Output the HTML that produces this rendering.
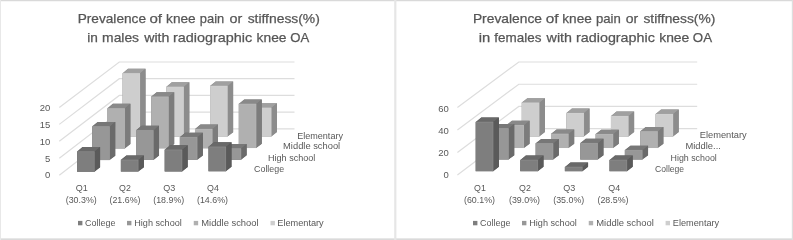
<!DOCTYPE html>
<html><head><meta charset="utf-8"><title>Prevalence of knee pain or stiffness</title>
<style>
html,body{margin:0;padding:0;background:#fff;}
body{width:793px;height:240px;overflow:hidden;font-family:"Liberation Sans",sans-serif;}
svg{display:block;will-change:transform;}
svg text{font-family:"Liberation Sans",sans-serif;}
</style></head><body>
<svg width="793" height="240" viewBox="0 0 793 240">
<rect x="0" y="0" width="793" height="240" fill="#ffffff"/>
<!-- frame -->
<rect x="0" y="0" width="793" height="1.25" fill="#d9d9d9"/>
<rect x="0" y="238.35" width="793" height="1.65" fill="#dadada"/>
<rect x="0" y="0" width="1" height="240" fill="#e8e8e8"/>
<rect x="791.8" y="0" width="1.2" height="240" fill="#dedede"/>
<rect x="394.2" y="0" width="2.2" height="240" fill="#e6e6e6"/>
<defs><filter id="soft" x="-5%" y="-5%" width="110%" height="110%"><feGaussianBlur stdDeviation="0.4"/></filter></defs>
<g id="chart-left" filter="url(#soft)">
<polyline points="59.3,175.3 119.3,128.8 294.5,128.8" fill="none" stroke="#dddddd" stroke-width="1.2"/>
<polyline points="59.3,158.33 119.3,112.1 294.5,112.1" fill="none" stroke="#dddddd" stroke-width="1.2"/>
<polyline points="59.3,141.35 119.3,95.4 294.5,95.4" fill="none" stroke="#dddddd" stroke-width="1.2"/>
<polyline points="59.3,124.38 119.3,78.7 294.5,78.7" fill="none" stroke="#dddddd" stroke-width="1.2"/>
<polyline points="59.3,107.4 119.3,62 294.5,62" fill="none" stroke="#dddddd" stroke-width="1.2"/>
<polygon points="122.53,136.92 122.53,73.17 128.03,68.77 145.53,68.77 145.53,132.52 140.03,136.92" fill="#8c8c8c"/>
<polygon points="122.53,73.77 140.03,73.77 145.53,68.77 128.03,68.77" fill="#a0a0a0"/>
<polygon points="139.44,73.77 145.53,68.77 145.53,132.52 139.44,136.92" fill="#8c8c8c"/>
<rect x="122.53" y="73.17" width="17.5" height="63.75" fill="#cecece"/>
<path d="M122.53,73.37 H139.84 V136.92" fill="none" stroke="#ffffff" stroke-opacity="0.10" stroke-width="0.9"/>
<polygon points="166.33,136.77 166.33,86.77 171.83,82.37 189.33,82.37 189.33,132.37 183.83,136.77" fill="#8c8c8c"/>
<polygon points="166.33,87.37 183.83,87.37 189.33,82.37 171.83,82.37" fill="#a0a0a0"/>
<polygon points="183.23,87.37 189.33,82.37 189.33,132.37 183.23,136.77" fill="#8c8c8c"/>
<rect x="166.33" y="86.77" width="17.5" height="50" fill="#cecece"/>
<path d="M166.33,86.97 H183.63 V136.77" fill="none" stroke="#ffffff" stroke-opacity="0.10" stroke-width="0.9"/>
<polygon points="210.13,136.62 210.13,85.87 215.63,81.47 233.13,81.47 233.13,132.22 227.63,136.62" fill="#8c8c8c"/>
<polygon points="210.13,86.47 227.63,86.47 233.13,81.47 215.63,81.47" fill="#a0a0a0"/>
<polygon points="227.03,86.47 233.13,81.47 233.13,132.22 227.03,136.62" fill="#8c8c8c"/>
<rect x="210.13" y="85.87" width="17.5" height="50.75" fill="#cecece"/>
<path d="M210.13,86.07 H227.44 V136.62" fill="none" stroke="#ffffff" stroke-opacity="0.10" stroke-width="0.9"/>
<polygon points="253.94,136.47 253.94,107.72 259.44,103.32 276.94,103.32 276.94,132.07 271.44,136.47" fill="#8c8c8c"/>
<polygon points="253.94,108.32 271.44,108.32 276.94,103.32 259.44,103.32" fill="#a0a0a0"/>
<polygon points="270.83,108.32 276.94,103.32 276.94,132.07 270.83,136.47" fill="#8c8c8c"/>
<rect x="253.94" y="107.72" width="17.5" height="28.75" fill="#cecece"/>
<path d="M253.94,107.92 H271.24 V136.47" fill="none" stroke="#ffffff" stroke-opacity="0.10" stroke-width="0.9"/>
<polygon points="107.39,148.52 107.39,108.27 112.89,103.87 130.38,103.87 130.38,144.12 124.89,148.52" fill="#7b7b7b"/>
<polygon points="107.39,108.87 124.89,108.87 130.38,103.87 112.89,103.87" fill="#898989"/>
<polygon points="124.29,108.87 130.38,103.87 130.38,144.12 124.29,148.52" fill="#7b7b7b"/>
<rect x="107.39" y="108.27" width="17.5" height="40.25" fill="#b0b0b0"/>
<path d="M107.39,108.47 H124.69 V148.52" fill="none" stroke="#ffffff" stroke-opacity="0.10" stroke-width="0.9"/>
<polygon points="151.19,148.37 151.19,96.62 156.69,92.22 174.19,92.22 174.19,143.97 168.69,148.37" fill="#7b7b7b"/>
<polygon points="151.19,97.22 168.69,97.22 174.19,92.22 156.69,92.22" fill="#898989"/>
<polygon points="168.09,97.22 174.19,92.22 174.19,143.97 168.09,148.37" fill="#7b7b7b"/>
<rect x="151.19" y="96.62" width="17.5" height="51.75" fill="#b0b0b0"/>
<path d="M151.19,96.82 H168.49 V148.37" fill="none" stroke="#ffffff" stroke-opacity="0.10" stroke-width="0.9"/>
<polygon points="194.98,148.22 194.98,128.97 200.48,124.57 217.98,124.57 217.98,143.82 212.48,148.22" fill="#7b7b7b"/>
<polygon points="194.98,129.57 212.48,129.57 217.98,124.57 200.48,124.57" fill="#898989"/>
<polygon points="211.88,129.57 217.98,124.57 217.98,143.82 211.88,148.22" fill="#7b7b7b"/>
<rect x="194.98" y="128.97" width="17.5" height="19.25" fill="#b0b0b0"/>
<path d="M194.98,129.17 H212.28 V148.22" fill="none" stroke="#ffffff" stroke-opacity="0.10" stroke-width="0.9"/>
<polygon points="238.78,148.07 238.78,103.82 244.28,99.42 261.78,99.42 261.78,143.67 256.28,148.07" fill="#7b7b7b"/>
<polygon points="238.78,104.42 256.28,104.42 261.78,99.42 244.28,99.42" fill="#898989"/>
<polygon points="255.68,104.42 261.78,99.42 261.78,143.67 255.68,148.07" fill="#7b7b7b"/>
<rect x="238.78" y="103.82" width="17.5" height="44.25" fill="#b0b0b0"/>
<path d="M238.78,104.02 H256.08 V148.07" fill="none" stroke="#ffffff" stroke-opacity="0.10" stroke-width="0.9"/>
<polygon points="92.23,160.12 92.23,126.37 97.73,121.97 115.23,121.97 115.23,155.72 109.73,160.12" fill="#6a6a6a"/>
<polygon points="92.23,126.97 109.73,126.97 115.23,121.97 97.73,121.97" fill="#777777"/>
<polygon points="109.14,126.97 115.23,121.97 115.23,155.72 109.14,160.12" fill="#6a6a6a"/>
<rect x="92.23" y="126.37" width="17.5" height="33.75" fill="#979797"/>
<path d="M92.23,126.57 H109.53 V160.12" fill="none" stroke="#ffffff" stroke-opacity="0.10" stroke-width="0.9"/>
<polygon points="136.03,159.97 136.03,130.22 141.53,125.82 159.03,125.82 159.03,155.57 153.53,159.97" fill="#6a6a6a"/>
<polygon points="136.03,130.82 153.53,130.82 159.03,125.82 141.53,125.82" fill="#777777"/>
<polygon points="152.94,130.82 159.03,125.82 159.03,155.57 152.94,159.97" fill="#6a6a6a"/>
<rect x="136.03" y="130.22" width="17.5" height="29.75" fill="#979797"/>
<path d="M136.03,130.42 H153.34 V159.97" fill="none" stroke="#ffffff" stroke-opacity="0.10" stroke-width="0.9"/>
<polygon points="179.83,159.82 179.83,137.07 185.33,132.67 202.83,132.67 202.83,155.42 197.33,159.82" fill="#6a6a6a"/>
<polygon points="179.83,137.67 197.33,137.67 202.83,132.67 185.33,132.67" fill="#777777"/>
<polygon points="196.73,137.67 202.83,132.67 202.83,155.42 196.73,159.82" fill="#6a6a6a"/>
<rect x="179.83" y="137.07" width="17.5" height="22.75" fill="#979797"/>
<path d="M179.83,137.27 H197.13 V159.82" fill="none" stroke="#ffffff" stroke-opacity="0.10" stroke-width="0.9"/>
<polygon points="223.63,159.67 223.63,148.42 229.13,144.02 246.63,144.02 246.63,155.27 241.13,159.67" fill="#6a6a6a"/>
<polygon points="223.63,149.02 241.13,149.02 246.63,144.02 229.13,144.02" fill="#777777"/>
<polygon points="240.53,149.02 246.63,144.02 246.63,155.27 240.53,159.67" fill="#6a6a6a"/>
<rect x="223.63" y="148.42" width="17.5" height="11.25" fill="#979797"/>
<path d="M223.63,148.62 H240.94 V159.67" fill="none" stroke="#ffffff" stroke-opacity="0.10" stroke-width="0.9"/>
<polygon points="77.08,171.72 77.08,151.47 82.58,147.07 100.08,147.07 100.08,167.32 94.58,171.72" fill="#5a5a5a"/>
<polygon points="77.08,152.07 94.58,152.07 100.08,147.07 82.58,147.07" fill="#696969"/>
<polygon points="93.98,152.07 100.08,147.07 100.08,167.32 93.98,171.72" fill="#5a5a5a"/>
<rect x="77.08" y="151.47" width="17.5" height="20.25" fill="#7e7e7e"/>
<path d="M77.08,151.67 H94.38 V171.72" fill="none" stroke="#ffffff" stroke-opacity="0.10" stroke-width="0.9"/>
<polygon points="120.88,171.57 120.88,159.82 126.38,155.42 143.88,155.42 143.88,167.17 138.38,171.57" fill="#5a5a5a"/>
<polygon points="120.88,160.42 138.38,160.42 143.88,155.42 126.38,155.42" fill="#696969"/>
<polygon points="137.78,160.42 143.88,155.42 143.88,167.17 137.78,171.57" fill="#5a5a5a"/>
<rect x="120.88" y="159.82" width="17.5" height="11.75" fill="#7e7e7e"/>
<path d="M120.88,160.02 H138.19 V171.57" fill="none" stroke="#ffffff" stroke-opacity="0.10" stroke-width="0.9"/>
<polygon points="164.68,171.42 164.68,149.67 170.18,145.27 187.68,145.27 187.68,167.02 182.18,171.42" fill="#5a5a5a"/>
<polygon points="164.68,150.27 182.18,150.27 187.68,145.27 170.18,145.27" fill="#696969"/>
<polygon points="181.58,150.27 187.68,145.27 187.68,167.02 181.58,171.42" fill="#5a5a5a"/>
<rect x="164.68" y="149.67" width="17.5" height="21.75" fill="#7e7e7e"/>
<path d="M164.68,149.87 H181.98 V171.42" fill="none" stroke="#ffffff" stroke-opacity="0.10" stroke-width="0.9"/>
<polygon points="208.48,171.27 208.48,146.67 213.98,142.27 231.48,142.27 231.48,166.87 225.98,171.27" fill="#5a5a5a"/>
<polygon points="208.48,147.27 225.98,147.27 231.48,142.27 213.98,142.27" fill="#696969"/>
<polygon points="225.38,147.27 231.48,142.27 231.48,166.87 225.38,171.27" fill="#5a5a5a"/>
<rect x="208.48" y="146.67" width="17.5" height="24.6" fill="#7e7e7e"/>
<path d="M208.48,146.87 H225.78 V171.27" fill="none" stroke="#ffffff" stroke-opacity="0.10" stroke-width="0.9"/>
</g>
<g id="chart-right" filter="url(#soft)">
<polyline points="457.4,175 518.8,128.7 697.2,128.7" fill="none" stroke="#dddddd" stroke-width="1.2"/>
<polyline points="457.4,152.53 518.8,106.47 697.2,106.47" fill="none" stroke="#dddddd" stroke-width="1.2"/>
<polyline points="457.4,130.07 518.8,84.23 697.2,84.23" fill="none" stroke="#dddddd" stroke-width="1.2"/>
<polyline points="457.4,107.6 518.8,62 697.2,62" fill="none" stroke="#dddddd" stroke-width="1.2"/>
<polygon points="521.74,136.48 521.74,102.58 527.34,98.18 544.94,98.18 544.94,132.08 539.34,136.48" fill="#8c8c8c"/>
<polygon points="521.74,103.18 539.34,103.18 544.94,98.18 527.34,98.18" fill="#a0a0a0"/>
<polygon points="538.74,103.18 544.94,98.18 544.94,132.08 538.74,136.48" fill="#8c8c8c"/>
<rect x="521.74" y="102.58" width="17.6" height="33.9" fill="#cecece"/>
<path d="M521.74,102.78 H539.13 V136.48" fill="none" stroke="#ffffff" stroke-opacity="0.10" stroke-width="0.9"/>
<polygon points="566.33,136.48 566.33,112.98 571.93,108.58 589.53,108.58 589.53,132.08 583.93,136.48" fill="#8c8c8c"/>
<polygon points="566.33,113.58 583.93,113.58 589.53,108.58 571.93,108.58" fill="#a0a0a0"/>
<polygon points="583.33,113.58 589.53,108.58 589.53,132.08 583.33,136.48" fill="#8c8c8c"/>
<rect x="566.33" y="112.98" width="17.6" height="23.5" fill="#cecece"/>
<path d="M566.33,113.18 H583.73 V136.48" fill="none" stroke="#ffffff" stroke-opacity="0.10" stroke-width="0.9"/>
<polygon points="610.93,136.48 610.93,115.98 616.53,111.58 634.13,111.58 634.13,132.08 628.53,136.48" fill="#8c8c8c"/>
<polygon points="610.93,116.58 628.53,116.58 634.13,111.58 616.53,111.58" fill="#a0a0a0"/>
<polygon points="627.93,116.58 634.13,111.58 634.13,132.08 627.93,136.48" fill="#8c8c8c"/>
<rect x="610.93" y="115.98" width="17.6" height="20.5" fill="#cecece"/>
<path d="M610.93,116.18 H628.33 V136.48" fill="none" stroke="#ffffff" stroke-opacity="0.10" stroke-width="0.9"/>
<polygon points="655.53,136.48 655.53,113.98 661.13,109.58 678.74,109.58 678.74,132.08 673.13,136.48" fill="#8c8c8c"/>
<polygon points="655.53,114.58 673.13,114.58 678.74,109.58 661.13,109.58" fill="#a0a0a0"/>
<polygon points="672.53,114.58 678.74,109.58 678.74,132.08 672.53,136.48" fill="#8c8c8c"/>
<rect x="655.53" y="113.98" width="17.6" height="22.5" fill="#cecece"/>
<path d="M655.53,114.18 H672.93 V136.48" fill="none" stroke="#ffffff" stroke-opacity="0.10" stroke-width="0.9"/>
<polygon points="506.38,148.03 506.38,125.03 511.99,120.63 529.59,120.63 529.59,143.63 523.99,148.03" fill="#7b7b7b"/>
<polygon points="506.38,125.63 523.99,125.63 529.59,120.63 511.99,120.63" fill="#898989"/>
<polygon points="523.38,125.63 529.59,120.63 529.59,143.63 523.38,148.03" fill="#7b7b7b"/>
<rect x="506.38" y="125.03" width="17.6" height="23" fill="#b0b0b0"/>
<path d="M506.38,125.23 H523.78 V148.03" fill="none" stroke="#ffffff" stroke-opacity="0.10" stroke-width="0.9"/>
<polygon points="550.99,148.03 550.99,133.78 556.59,129.38 574.19,129.38 574.19,143.63 568.59,148.03" fill="#7b7b7b"/>
<polygon points="550.99,134.38 568.59,134.38 574.19,129.38 556.59,129.38" fill="#898989"/>
<polygon points="567.99,134.38 574.19,129.38 574.19,143.63 567.99,148.03" fill="#7b7b7b"/>
<rect x="550.99" y="133.78" width="17.6" height="14.25" fill="#b0b0b0"/>
<path d="M550.99,133.98 H568.38 V148.03" fill="none" stroke="#ffffff" stroke-opacity="0.10" stroke-width="0.9"/>
<polygon points="595.59,148.03 595.59,134.03 601.19,129.63 618.79,129.63 618.79,143.63 613.19,148.03" fill="#7b7b7b"/>
<polygon points="595.59,134.63 613.19,134.63 618.79,129.63 601.19,129.63" fill="#898989"/>
<polygon points="612.59,134.63 618.79,129.63 618.79,143.63 612.59,148.03" fill="#7b7b7b"/>
<rect x="595.59" y="134.03" width="17.6" height="14" fill="#b0b0b0"/>
<path d="M595.59,134.23 H612.99 V148.03" fill="none" stroke="#ffffff" stroke-opacity="0.10" stroke-width="0.9"/>
<polygon points="640.18,148.03 640.18,131.28 645.78,126.88 663.38,126.88 663.38,143.63 657.78,148.03" fill="#7b7b7b"/>
<polygon points="640.18,131.88 657.78,131.88 663.38,126.88 645.78,126.88" fill="#898989"/>
<polygon points="657.18,131.88 663.38,126.88 663.38,143.63 657.18,148.03" fill="#7b7b7b"/>
<rect x="640.18" y="131.28" width="17.6" height="16.75" fill="#b0b0b0"/>
<path d="M640.18,131.48 H657.58 V148.03" fill="none" stroke="#ffffff" stroke-opacity="0.10" stroke-width="0.9"/>
<polygon points="491.03,159.58 491.03,128.33 496.63,123.93 514.24,123.93 514.24,155.18 508.63,159.58" fill="#6a6a6a"/>
<polygon points="491.03,128.93 508.63,128.93 514.24,123.93 496.63,123.93" fill="#777777"/>
<polygon points="508.03,128.93 514.24,123.93 514.24,155.18 508.03,159.58" fill="#6a6a6a"/>
<rect x="491.03" y="128.33" width="17.6" height="31.25" fill="#979797"/>
<path d="M491.03,128.53 H508.44 V159.58" fill="none" stroke="#ffffff" stroke-opacity="0.10" stroke-width="0.9"/>
<polygon points="535.63,159.58 535.63,143.33 541.24,138.93 558.84,138.93 558.84,155.18 553.24,159.58" fill="#6a6a6a"/>
<polygon points="535.63,143.93 553.24,143.93 558.84,138.93 541.24,138.93" fill="#777777"/>
<polygon points="552.63,143.93 558.84,138.93 558.84,155.18 552.63,159.58" fill="#6a6a6a"/>
<rect x="535.63" y="143.33" width="17.6" height="16.25" fill="#979797"/>
<path d="M535.63,143.53 H553.03 V159.58" fill="none" stroke="#ffffff" stroke-opacity="0.10" stroke-width="0.9"/>
<polygon points="580.24,159.58 580.24,143.08 585.84,138.68 603.44,138.68 603.44,155.18 597.84,159.58" fill="#6a6a6a"/>
<polygon points="580.24,143.68 597.84,143.68 603.44,138.68 585.84,138.68" fill="#777777"/>
<polygon points="597.24,143.68 603.44,138.68 603.44,155.18 597.24,159.58" fill="#6a6a6a"/>
<rect x="580.24" y="143.08" width="17.6" height="16.5" fill="#979797"/>
<path d="M580.24,143.28 H597.63 V159.58" fill="none" stroke="#ffffff" stroke-opacity="0.10" stroke-width="0.9"/>
<polygon points="624.84,159.58 624.84,150.08 630.44,145.68 648.04,145.68 648.04,155.18 642.44,159.58" fill="#6a6a6a"/>
<polygon points="624.84,150.68 642.44,150.68 648.04,145.68 630.44,145.68" fill="#777777"/>
<polygon points="641.84,150.68 648.04,145.68 648.04,155.18 641.84,159.58" fill="#6a6a6a"/>
<rect x="624.84" y="150.08" width="17.6" height="9.5" fill="#979797"/>
<path d="M624.84,150.28 H642.24 V159.58" fill="none" stroke="#ffffff" stroke-opacity="0.10" stroke-width="0.9"/>
<polygon points="475.69,171.13 475.69,121.88 481.29,117.48 498.89,117.48 498.89,166.73 493.29,171.13" fill="#5a5a5a"/>
<polygon points="475.69,122.48 493.29,122.48 498.89,117.48 481.29,117.48" fill="#696969"/>
<polygon points="492.69,122.48 498.89,117.48 498.89,166.73 492.69,171.13" fill="#5a5a5a"/>
<rect x="475.69" y="121.88" width="17.6" height="49.25" fill="#7e7e7e"/>
<path d="M475.69,122.08 H493.09 V171.13" fill="none" stroke="#ffffff" stroke-opacity="0.10" stroke-width="0.9"/>
<polygon points="520.28,171.13 520.28,159.88 525.88,155.48 543.49,155.48 543.49,166.73 537.88,171.13" fill="#5a5a5a"/>
<polygon points="520.28,160.48 537.88,160.48 543.49,155.48 525.88,155.48" fill="#696969"/>
<polygon points="537.28,160.48 543.49,155.48 543.49,166.73 537.28,171.13" fill="#5a5a5a"/>
<rect x="520.28" y="159.88" width="17.6" height="11.25" fill="#7e7e7e"/>
<path d="M520.28,160.08 H537.68 V171.13" fill="none" stroke="#ffffff" stroke-opacity="0.10" stroke-width="0.9"/>
<polygon points="564.88,171.13 564.88,166.88 570.49,162.48 588.09,162.48 588.09,166.73 582.49,171.13" fill="#5a5a5a"/>
<polygon points="564.88,167.48 582.49,167.48 588.09,162.48 570.49,162.48" fill="#696969"/>
<polygon points="581.88,167.48 588.09,162.48 588.09,166.73 581.88,171.13" fill="#5a5a5a"/>
<rect x="564.88" y="166.88" width="17.6" height="4.25" fill="#7e7e7e"/>
<path d="M564.88,167.08 H582.28 V171.13" fill="none" stroke="#ffffff" stroke-opacity="0.10" stroke-width="0.9"/>
<polygon points="609.49,171.13 609.49,159.88 615.09,155.48 632.69,155.48 632.69,166.73 627.09,171.13" fill="#5a5a5a"/>
<polygon points="609.49,160.48 627.09,160.48 632.69,155.48 615.09,155.48" fill="#696969"/>
<polygon points="626.49,160.48 632.69,155.48 632.69,166.73 626.49,171.13" fill="#5a5a5a"/>
<rect x="609.49" y="159.88" width="17.6" height="11.25" fill="#7e7e7e"/>
<path d="M609.49,160.08 H626.88 V171.13" fill="none" stroke="#ffffff" stroke-opacity="0.10" stroke-width="0.9"/>
</g>
<g id="labels" filter="url(#soft)">
<text stroke="#505050" stroke-width="0.25" x="77.71" y="23.3" font-size="13.6" text-anchor="start" fill="#585858" textLength="68.28" lengthAdjust="spacingAndGlyphs">Prevalence</text>
<text stroke="#505050" stroke-width="0.25" x="149.4" y="23.3" font-size="13.6" text-anchor="start" fill="#585858" textLength="12.59" lengthAdjust="spacingAndGlyphs">of</text>
<text stroke="#505050" stroke-width="0.25" x="166.12" y="23.3" font-size="13.6" text-anchor="start" fill="#585858" textLength="29.47" lengthAdjust="spacingAndGlyphs">knee</text>
<text stroke="#505050" stroke-width="0.25" x="199.83" y="23.3" font-size="13.6" text-anchor="start" fill="#585858" textLength="24.35" lengthAdjust="spacingAndGlyphs">pain</text>
<text stroke="#505050" stroke-width="0.25" x="229.43" y="23.3" font-size="13.6" text-anchor="start" fill="#585858" textLength="12.78" lengthAdjust="spacingAndGlyphs">or</text>
<text stroke="#505050" stroke-width="0.25" x="247.65" y="23.3" font-size="13.6" text-anchor="start" fill="#585858" textLength="72.18" lengthAdjust="spacingAndGlyphs">stiffness(%)</text>
<text stroke="#505050" stroke-width="0.25" x="87.21" y="42.1" font-size="13.6" text-anchor="start" fill="#585858" textLength="10.66" lengthAdjust="spacingAndGlyphs">in</text>
<text stroke="#505050" stroke-width="0.25" x="102.1" y="42.1" font-size="13.6" text-anchor="start" fill="#585858" textLength="36.95" lengthAdjust="spacingAndGlyphs">males</text>
<text stroke="#505050" stroke-width="0.25" x="144.2" y="42.1" font-size="13.6" text-anchor="start" fill="#585858" textLength="25.23" lengthAdjust="spacingAndGlyphs">with</text>
<text stroke="#505050" stroke-width="0.25" x="173.06" y="42.1" font-size="13.6" text-anchor="start" fill="#585858" textLength="79.18" lengthAdjust="spacingAndGlyphs">radiographic</text>
<text stroke="#505050" stroke-width="0.25" x="256.6" y="42.1" font-size="13.6" text-anchor="start" fill="#585858" textLength="29.9" lengthAdjust="spacingAndGlyphs">knee</text>
<text stroke="#505050" stroke-width="0.25" x="290.21" y="42.1" font-size="13.6" text-anchor="start" fill="#585858" textLength="18.99" lengthAdjust="spacingAndGlyphs">OA</text>
<text stroke="#505050" stroke-width="0.25" x="472.9" y="23.3" font-size="13.6" text-anchor="start" fill="#585858" textLength="69.1" lengthAdjust="spacingAndGlyphs">Prevalence</text>
<text stroke="#505050" stroke-width="0.25" x="545.79" y="23.3" font-size="13.6" text-anchor="start" fill="#585858" textLength="12.8" lengthAdjust="spacingAndGlyphs">of</text>
<text stroke="#505050" stroke-width="0.25" x="562.32" y="23.3" font-size="13.6" text-anchor="start" fill="#585858" textLength="29.47" lengthAdjust="spacingAndGlyphs">knee</text>
<text stroke="#505050" stroke-width="0.25" x="595.91" y="23.3" font-size="13.6" text-anchor="start" fill="#585858" textLength="24.89" lengthAdjust="spacingAndGlyphs">pain</text>
<text stroke="#505050" stroke-width="0.25" x="625.74" y="23.3" font-size="13.6" text-anchor="start" fill="#585858" textLength="12.46" lengthAdjust="spacingAndGlyphs">or</text>
<text stroke="#505050" stroke-width="0.25" x="643.45" y="23.3" font-size="13.6" text-anchor="start" fill="#585858" textLength="71.88" lengthAdjust="spacingAndGlyphs">stiffness(%)</text>
<text stroke="#505050" stroke-width="0.25" x="478.74" y="42.1" font-size="13.6" text-anchor="start" fill="#585858" textLength="11.5" lengthAdjust="spacingAndGlyphs">in</text>
<text stroke="#505050" stroke-width="0.25" x="494.37" y="42.1" font-size="13.6" text-anchor="start" fill="#585858" textLength="47.03" lengthAdjust="spacingAndGlyphs">females</text>
<text stroke="#505050" stroke-width="0.25" x="546.6" y="42.1" font-size="13.6" text-anchor="start" fill="#585858" textLength="25.43" lengthAdjust="spacingAndGlyphs">with</text>
<text stroke="#505050" stroke-width="0.25" x="576.07" y="42.1" font-size="13.6" text-anchor="start" fill="#585858" textLength="78.77" lengthAdjust="spacingAndGlyphs">radiographic</text>
<text stroke="#505050" stroke-width="0.25" x="659.2" y="42.1" font-size="13.6" text-anchor="start" fill="#585858" textLength="30.11" lengthAdjust="spacingAndGlyphs">knee</text>
<text stroke="#505050" stroke-width="0.25" x="692.8" y="42.1" font-size="13.6" text-anchor="start" fill="#585858" textLength="19.2" lengthAdjust="spacingAndGlyphs">OA</text>
<text x="45.06" y="178.4" font-size="9.5" text-anchor="start" fill="#585858">0</text>
<text x="45.11" y="161.5" font-size="9.5" text-anchor="start" fill="#585858">5</text>
<text x="39.79" y="144.6" font-size="9.5" text-anchor="start" fill="#585858">10</text>
<text x="39.84" y="127.7" font-size="9.5" text-anchor="start" fill="#585858">15</text>
<text x="39.79" y="110.8" font-size="9.5" text-anchor="start" fill="#585858">20</text>
<text x="443.56" y="177.9" font-size="9.5" text-anchor="start" fill="#585858">0</text>
<text x="438.29" y="155.8" font-size="9.5" text-anchor="start" fill="#585858">20</text>
<text x="438.29" y="133.7" font-size="9.5" text-anchor="start" fill="#585858">40</text>
<text x="438.29" y="111.6" font-size="9.5" text-anchor="start" fill="#585858">60</text>
<text x="75.84" y="190.5" font-size="9.5" text-anchor="start" fill="#585858" textLength="12.05" lengthAdjust="spacingAndGlyphs">Q1</text>
<text x="65.72" y="203" font-size="9.5" text-anchor="start" fill="#585858" textLength="31.03" lengthAdjust="spacingAndGlyphs">(30.3%)</text>
<text x="119.1" y="190.5" font-size="9.5" text-anchor="start" fill="#585858" textLength="11.79" lengthAdjust="spacingAndGlyphs">Q2</text>
<text x="109.47" y="203" font-size="9.5" text-anchor="start" fill="#585858" textLength="31.03" lengthAdjust="spacingAndGlyphs">(21.6%)</text>
<text x="163.34" y="190.5" font-size="9.5" text-anchor="start" fill="#585858" textLength="12.01" lengthAdjust="spacingAndGlyphs">Q3</text>
<text x="153.22" y="203" font-size="9.5" text-anchor="start" fill="#585858" textLength="31.03" lengthAdjust="spacingAndGlyphs">(18.9%)</text>
<text x="207.1" y="190.5" font-size="9.5" text-anchor="start" fill="#585858" textLength="11.86" lengthAdjust="spacingAndGlyphs">Q4</text>
<text x="196.97" y="203" font-size="9.5" text-anchor="start" fill="#585858" textLength="31.03" lengthAdjust="spacingAndGlyphs">(14.6%)</text>
<text x="474.1" y="190.5" font-size="9.5" text-anchor="start" fill="#585858" textLength="11.79" lengthAdjust="spacingAndGlyphs">Q1</text>
<text x="463.97" y="203" font-size="9.5" text-anchor="start" fill="#585858" textLength="31.03" lengthAdjust="spacingAndGlyphs">(60.1%)</text>
<text x="519.1" y="190.5" font-size="9.5" text-anchor="start" fill="#585858" textLength="11.79" lengthAdjust="spacingAndGlyphs">Q2</text>
<text x="508.97" y="203" font-size="9.5" text-anchor="start" fill="#585858" textLength="31.03" lengthAdjust="spacingAndGlyphs">(39.0%)</text>
<text x="563.35" y="190.5" font-size="9.5" text-anchor="start" fill="#585858" textLength="12.01" lengthAdjust="spacingAndGlyphs">Q3</text>
<text x="553.22" y="203" font-size="9.5" text-anchor="start" fill="#585858" textLength="31.03" lengthAdjust="spacingAndGlyphs">(35.0%)</text>
<text x="608.35" y="190.5" font-size="9.5" text-anchor="start" fill="#585858" textLength="11.86" lengthAdjust="spacingAndGlyphs">Q4</text>
<text x="597.47" y="203" font-size="9.5" text-anchor="start" fill="#585858" textLength="31.03" lengthAdjust="spacingAndGlyphs">(28.5%)</text>
<text x="297.18" y="138.5" font-size="9.5" text-anchor="start" fill="#585858" textLength="45.8" lengthAdjust="spacingAndGlyphs">Elementary</text>
<text x="283.1" y="149.3" font-size="9.5" text-anchor="start" fill="#585858" textLength="57.1" lengthAdjust="spacingAndGlyphs">Middle school</text>
<text x="268.03" y="160.7" font-size="9.5" text-anchor="start" fill="#585858" textLength="47.32" lengthAdjust="spacingAndGlyphs">High school</text>
<text x="254.06" y="172" font-size="9.5" text-anchor="start" fill="#585858" textLength="30.06" lengthAdjust="spacingAndGlyphs">College</text>
<text x="699.76" y="138" font-size="9.5" text-anchor="start" fill="#585858" textLength="46.97" lengthAdjust="spacingAndGlyphs">Elementary</text>
<text x="685.5" y="149.1" font-size="9.5" text-anchor="start" fill="#585858" textLength="35.33" lengthAdjust="spacingAndGlyphs">Middle...</text>
<text x="670.54" y="160.7" font-size="9.5" text-anchor="start" fill="#585858" textLength="46.24" lengthAdjust="spacingAndGlyphs">High school</text>
<text x="655.07" y="172" font-size="9.5" text-anchor="start" fill="#585858" textLength="29.03" lengthAdjust="spacingAndGlyphs">College</text>
<rect x="78" y="220.9" width="4.4" height="4.4" fill="#7e7e7e"/>
<text x="85.05" y="225.75" font-size="9.5" text-anchor="start" fill="#585858" textLength="30.32" lengthAdjust="spacingAndGlyphs">College</text>
<rect x="127" y="220.9" width="4.4" height="4.4" fill="#979797"/>
<text x="134.27" y="225.75" font-size="9.5" text-anchor="start" fill="#585858" textLength="47.53" lengthAdjust="spacingAndGlyphs">High school</text>
<rect x="193.75" y="220.9" width="4.4" height="4.4" fill="#b0b0b0"/>
<text x="201.25" y="225.75" font-size="9.5" text-anchor="start" fill="#585858" textLength="57.36" lengthAdjust="spacingAndGlyphs">Middle school</text>
<rect x="270.5" y="220.9" width="4.4" height="4.4" fill="#cecece"/>
<text x="277.27" y="225.75" font-size="9.5" text-anchor="start" fill="#585858" textLength="46.46" lengthAdjust="spacingAndGlyphs">Elementary</text>
<rect x="473" y="220.9" width="4.4" height="4.4" fill="#7e7e7e"/>
<text x="480.05" y="225.75" font-size="9.5" text-anchor="start" fill="#585858" textLength="30.32" lengthAdjust="spacingAndGlyphs">College</text>
<rect x="522" y="220.9" width="4.4" height="4.4" fill="#979797"/>
<text x="529.27" y="225.75" font-size="9.5" text-anchor="start" fill="#585858" textLength="47.53" lengthAdjust="spacingAndGlyphs">High school</text>
<rect x="588.75" y="220.9" width="4.4" height="4.4" fill="#b0b0b0"/>
<text x="596.25" y="225.75" font-size="9.5" text-anchor="start" fill="#585858" textLength="57.56" lengthAdjust="spacingAndGlyphs">Middle school</text>
<rect x="665.6" y="220.9" width="4.4" height="4.4" fill="#cecece"/>
<text x="672.87" y="225.75" font-size="9.5" text-anchor="start" fill="#585858" textLength="46.31" lengthAdjust="spacingAndGlyphs">Elementary</text>
</g>
</svg>
</body></html>
